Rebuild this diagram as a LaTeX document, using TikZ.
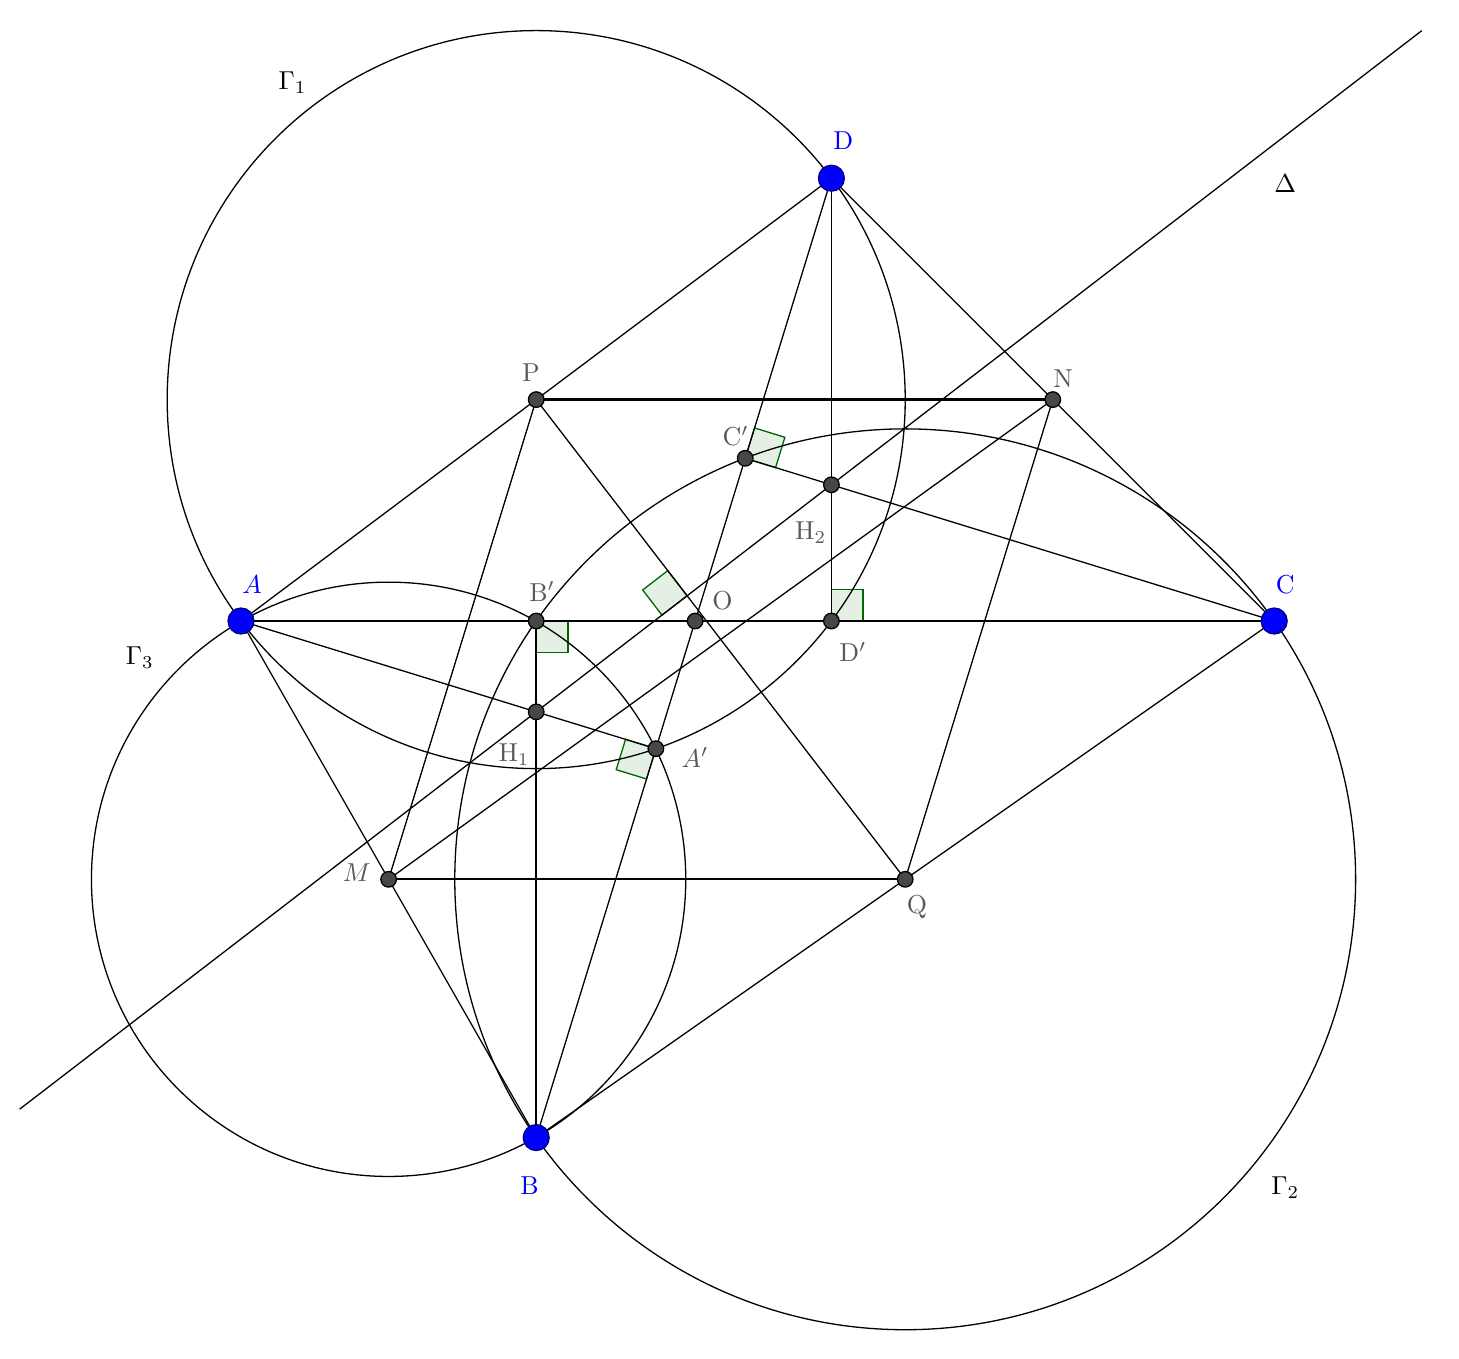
\documentclass[tikz,border=0pt]{standalone}
\usetikzlibrary{calc}
\newcommand\myrightangle[3]{%
  \coordinate (ra1) at ($(#1)!0.43cm!(#2)$);
  \coordinate (ra2) at ($(#1)!0.43cm!(#3)$);
  \filldraw[ramark] (#1) -- (ra1) -- ($(ra1)+(ra2)-(#1)$) -- (ra2) -- cycle;}
\begin{document}
\begin{tikzpicture}[
  ln/.style={line width=0.5pt, black},
  thk/.style={line width=0.85pt, black},
  ramark/.style={fill=green!40!black!10, draw=green!40!black, line width=0.5pt},
  bigpt/.style={circle, fill=blue, draw=blue!50!black, line width=0.5pt, inner sep=0pt, minimum size=10pt},
  smpt/.style={circle, fill=black!72, draw=black, line width=0.5pt, inner sep=0pt, minimum size=6pt},
  lblb/.style={text=blue, inner sep=0pt},
  lblg/.style={text=black!65, inner sep=0pt},
  lblk/.style={text=black, inner sep=0pt},
]
\useasboundingbox (-3.2656,-10) rectangle (16.504,8.4146);
% base points
\coordinate (A) at (0,0);
\coordinate (B) at (4,-7);
\coordinate (C) at (14,0);
\coordinate (D) at (8,6);
% midpoints
\coordinate (P) at ($(A)!0.5!(D)$);
\coordinate (N) at ($(D)!0.5!(C)$);
\coordinate (M) at ($(A)!0.5!(B)$);
\coordinate (Q) at ($(B)!0.5!(C)$);
% feet and intersections
\coordinate (O) at (intersection of A--C and B--D);
\coordinate (Bp) at ($(A)!(B)!(C)$);
\coordinate (Dp) at ($(A)!(D)!(C)$);
\coordinate (Ap) at ($(B)!(A)!(D)$);
\coordinate (Cp) at ($(B)!(C)!(D)$);
\coordinate (H1) at (intersection of A--Ap and B--Bp);
\coordinate (H2) at (intersection of C--Cp and D--Dp);
\coordinate (X) at (intersection of P--Q and H1--H2);
\coordinate (DeltaS) at ($(H1)!-1.75!(H2)$);
\coordinate (DeltaE) at ($(H1)!3!(H2)$);
% right angle marks
\myrightangle{Bp}{C}{B}
\myrightangle{Dp}{C}{D}
\myrightangle{Ap}{A}{B}
\myrightangle{Cp}{C}{D}
\myrightangle{X}{P}{H1}
% circles
\draw[ln] let \p1=($(A)-(P)$) in (P) circle ({veclen(\x1,\y1)});
\draw[ln] let \p1=($(B)-(Q)$) in (Q) circle ({veclen(\x1,\y1)});
\draw[ln] let \p1=($(A)-(M)$) in (M) circle ({veclen(\x1,\y1)});
% quadrilateral
\draw[ln] (A) -- (D) -- (C) -- (B) -- cycle;
\draw[ln] (A) -- (C);
\draw[ln] (B) -- (D);
% midpoint parallelogram
\draw[thk] (P) -- (N);
\draw[ln] (N) -- (Q);
\draw[thk] (Q) -- (M);
\draw[ln] (M) -- (P);
\draw[ln] (P) -- (Q);
\draw[ln] (M) -- (N);
% altitudes
\draw[thk] (B) -- (Bp);
\draw[ln] (D) -- (Dp);
\draw[ln] (A) -- (Ap);
\draw[ln] (C) -- (Cp);
% Delta
\draw[ln] (DeltaS) -- (DeltaE);
% points
\foreach \p in {P,N,M,Q,O,Bp,Dp,Ap,Cp,H1,H2} \node[smpt] (n\p) at (\p) {};
\foreach \p in {A,B,C,D} \node[bigpt] (n\p) at (\p) {};
% labels
\node[lblb] (tA) at ($(A)+(0.15,0.49)$) {$A$};
\node[lblb] (tB) at ($(B)+(-0.09,-0.65)$) {$\mathrm{B}$};
\node[lblb] (tC) at ($(C)+(0.15,0.49)$) {$\mathrm{C}$};
\node[lblb] (tD) at ($(D)+(0.16,0.51)$) {$\mathrm{D}$};
\node[lblg] (tP) at ($(P)+(-0.07,0.37)$) {$\mathrm{P}$};
\node[lblg] (tN) at ($(N)+(0.14,0.28)$) {$\mathrm{N}$};
\node[lblg] (tM) at ($(M)+(-0.43,0.09)$) {$M$};
\node[lblg] (tQ) at ($(Q)+(0.16,-0.38)$) {$\mathrm{Q}$};
\node[lblg] (tO) at ($(O)+(0.37,0.28)$) {$\mathrm{O}$};
\node[lblg] (tBp) at ($(Bp)+(0.08,0.40)$) {$\mathrm{B}'$};
\node[lblg] (tDp) at ($(Dp)+(0.29,-0.42)$) {$\mathrm{D}'$};
\node[lblg] (tAp) at ($(Ap)+(0.53,-0.12)$) {$A'$};
\node[lblg] (tCp) at ($(Cp)+(-0.13,0.30)$) {$\mathrm{C}'$};
\node[lblg] (tH1) at ($(H1)+(-0.30,-0.58)$) {$\mathrm{H}_1$};
\node[lblg] (tH2) at ($(H2)+(-0.28,-0.65)$) {$\mathrm{H}_2$};
\node[lblk] (tG1) at (0.70,7.29) {$\Gamma_1$};
\node[lblk] (tG2) at (14.15,-7.68) {$\Gamma_2$};
\node[lblk] (tG3) at (-1.37,-0.50) {$\Gamma_3$};
\node[lblk] (tDelta) at (14.15,5.93) {$\Delta$};
\end{tikzpicture}
\end{document}
